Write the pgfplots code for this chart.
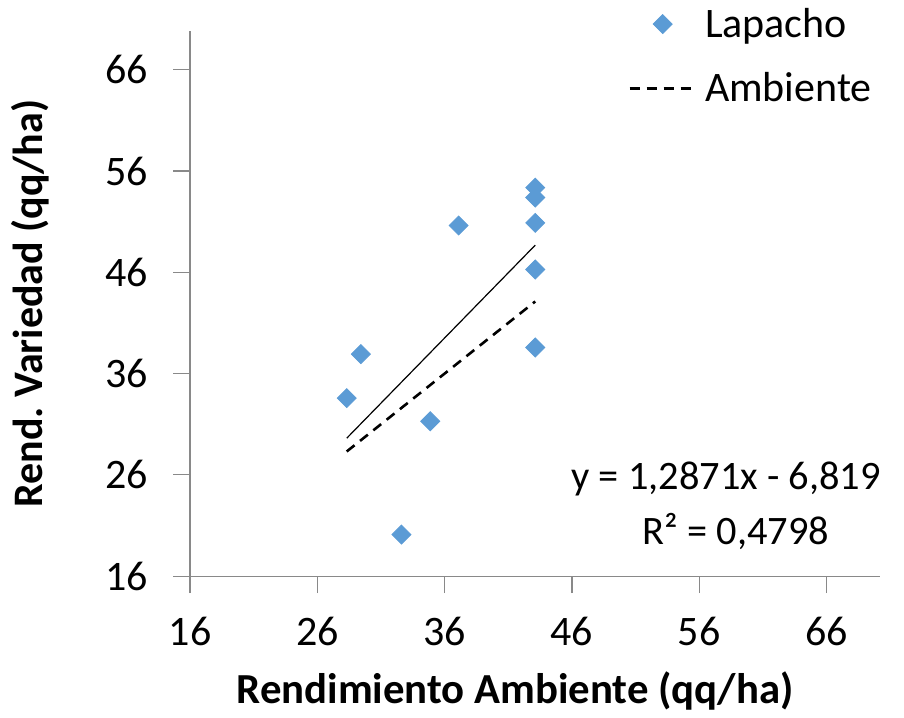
\documentclass[border=0pt]{standalone}
\usepackage{pgfplots}
\pgfplotsset{compat=1.18}
\usepackage{fontspec}
\setmainfont{Carlito}
\frenchspacing
\definecolor{markblue}{HTML}{5B9BD5}
\definecolor{axgrey}{HTML}{898989}
\pgfplotsset{
  mylegmark/.style={legend image code/.code={\draw[mark repeat=2,mark phase=2,##1] plot coordinates {(0pt,0pt)(16.5pt,0pt)(33pt,0pt)};}},
  myleglin/.style={legend image code/.code={\draw[##1] (0pt,0pt) -- (33pt,0pt);}},
}
\begin{document}
\begin{tikzpicture}
\begin{axis}[
  scale only axis,
  width=345pt, height=272.5pt,
  xmin=16, xmax=70.2, ymin=16, ymax=69.8,
  xtick={16,26,36,46,56,66}, ytick={16,26,36,46,56,66},
  axis lines=left,
  axis line style={-, axgrey, line width=0.6pt},
  tick style={axgrey, line width=0.6pt},
  tick align=outside,
  major tick length=8.5pt,
  /pgf/number format/assume math mode=true,
  ticklabel style={font=\fontsize{21}{25}\selectfont},
  yticklabel style={xshift=-9pt},
  xticklabel style={yshift=-8.5pt},
  xlabel={Rendimiento Ambiente (qq/ha)},
  ylabel={Rend. Variedad (qq/ha)},
  xlabel style={font=\fontsize{21.4}{25}\selectfont\bfseries, at={(axis description cs:0.471,-0.211)}, anchor=center},
  ylabel style={font=\fontsize{21}{25}\selectfont\bfseries, at={(axis description cs:-0.232,0.50)}, anchor=center, rotate=0},
  legend style={at={(rel axis cs:1.003,1.058)}, anchor=north east, draw=none, fill=none,
    font=\fontsize{21}{25}\selectfont, row sep=12pt, column sep=2pt},
  legend cell align=left,
  clip=false,
]
\path (rel axis cs:-0.2754,-0.2514) rectangle (rel axis cs:1.0348,1.0550);
\addplot[only marks, mark=square*, mark size=3.36pt, mark options={markblue, draw=markblue, fill=markblue, rotate=45}, mylegmark]
coordinates {
(28.31,33.58) (29.42,37.92) (32.61,20.11) (34.87,31.29) (37.10,50.62)
(43.12,54.36) (43.12,53.38) (43.12,50.88) (43.12,46.28) (43.12,38.58)
};
\addlegendentry{Lapacho}
\addplot[black, line width=1.3pt, dash pattern=on 5pt off 3.5pt, myleglin]
coordinates {
(28.31,28.31) (29.42,29.42) (32.61,32.61) (34.87,34.87) (37.10,37.10) (43.12,43.12)
};
\addlegendentry{Ambiente}
\addplot[black, line width=0.6pt, forget plot] coordinates {(28.31,29.62) (43.12,48.68)};
\node[font=\fontsize{20.2}{24}\selectfont, anchor=center] at (axis cs:58.1,25.57) {y = 1,2871x - 6,819};
\node[font=\fontsize{20.2}{24}\selectfont, anchor=center] at (axis cs:58.9,20.44) {R² = 0,4798};
\end{axis}
\end{tikzpicture}
\end{document}
